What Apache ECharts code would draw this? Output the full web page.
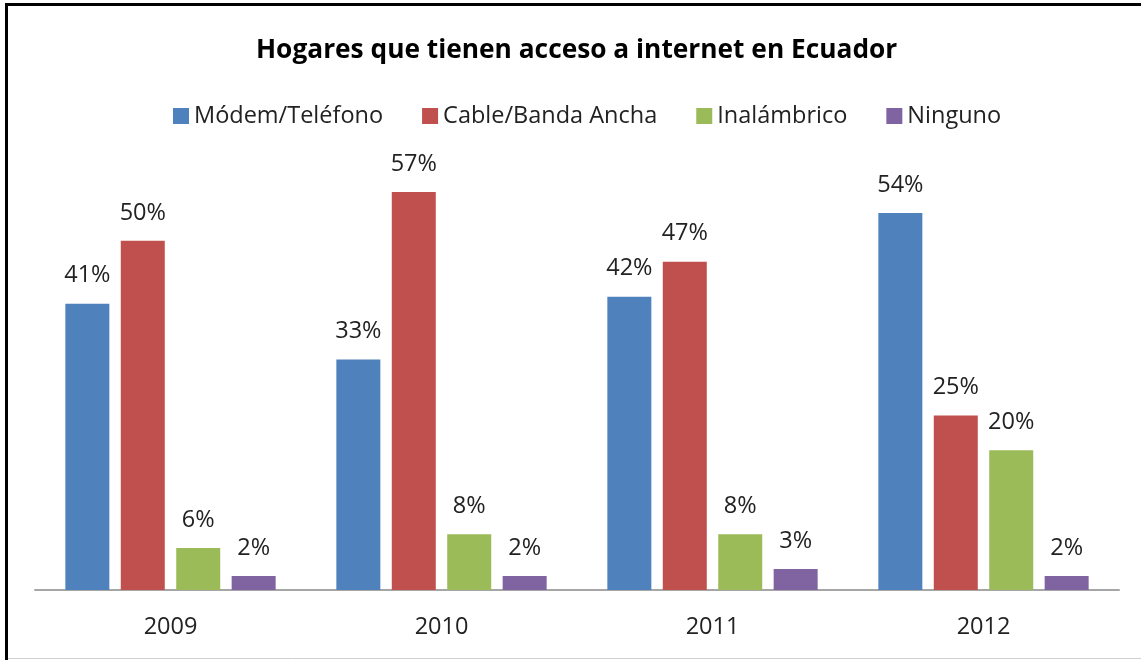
<!DOCTYPE html>
<html>
<head>
    <meta charset="utf-8" />
    <script src="https://cdn.jsdelivr.net/npm/echarts@6/dist/echarts.min.js"></script>
    <title></title>
    <style>
        html, body { margin: 0; padding: 0; background: #fff; }
    </style>
</head>
<body>
    <div id="main" style="width: 1141px;height:660px;"></div>
</body>
</html>
<script>
    var years = ['2009', '2010', '2011', '2012'];
    var seriesNames = ['Módem/Teléfono', 'Cable/Banda Ancha', 'Inalámbrico', 'Ninguno'];
    var modem = [41, 33, 42, 54];
    var cable = [50, 57, 47, 25];
    var inalambrico = [6, 8, 8, 20];
    var ninguno = [2, 2, 3, 2];
    var colors = ['#4F81BD', '#C0504D', '#9BBB59', '#8064A2'];

    var font = 'Open Sans';
    var chart = echarts.init(document.getElementById('main'));

    var allData = [modem, cable, inalambrico, ninguno];
    var series = [];
    for (var i = 0; i < allData.length; i++) {
        series.push({
            name: seriesNames[i],
            type: 'bar',
            data: allData[i],
            barWidth: 44,
            barGap: '26%',
            itemStyle: { color: colors[i] },
            label: {
                show: true,
                position: 'top',
                distance: 16,
                formatter: '{c}%',
                color: '#222',
                fontFamily: font,
                fontSize: 23.5
            }
        });
    }

    option = {
        animation: false,
        backgroundColor: '#fff',
        title: {
            text: 'Hogares que tienen acceso a internet en Ecuador',
            left: 251,
            top: 33,
            textStyle: { fontFamily: font, fontSize: 26.3, fontWeight: 'bold', color: '#000' }
        },
        legend: {
            data: seriesNames,
            top: 99,
            left: 168,
            icon: 'rect',
            itemWidth: 16,
            itemHeight: 16,
            itemGap: 39,
            textStyle: { fontFamily: font, fontSize: 23.5, color: '#222' }
        },
        grid: { left: 35, right: 22, top: 171, bottom: 70 },
        xAxis: {
            type: 'category',
            data: years,
            axisLine: { lineStyle: { color: '#A6A6A6', width: 2 } },
            axisTick: { show: false },
            axisLabel: { fontFamily: font, fontSize: 23.5, color: '#222', margin: 25 }
        },
        yAxis: {
            type: 'value',
            min: 0,
            max: 60,
            show: false,
            splitLine: { show: false }
        },
        graphic: [
            { type: 'line', shape: { x1: 6.5, y1: 3, x2: 6.5, y2: 660 }, style: { stroke: '#000', lineWidth: 3 } },
            { type: 'line', shape: { x1: 5, y1: 4.5, x2: 1141, y2: 4.5 }, style: { stroke: '#000', lineWidth: 3 } },
            { type: 'line', shape: { x1: 8, y1: 658.5, x2: 1141, y2: 658.5 }, style: { stroke: '#D0D0D0', lineWidth: 1 } }
        ],
        series: series
    };

    chart.setOption(option);
</script>
